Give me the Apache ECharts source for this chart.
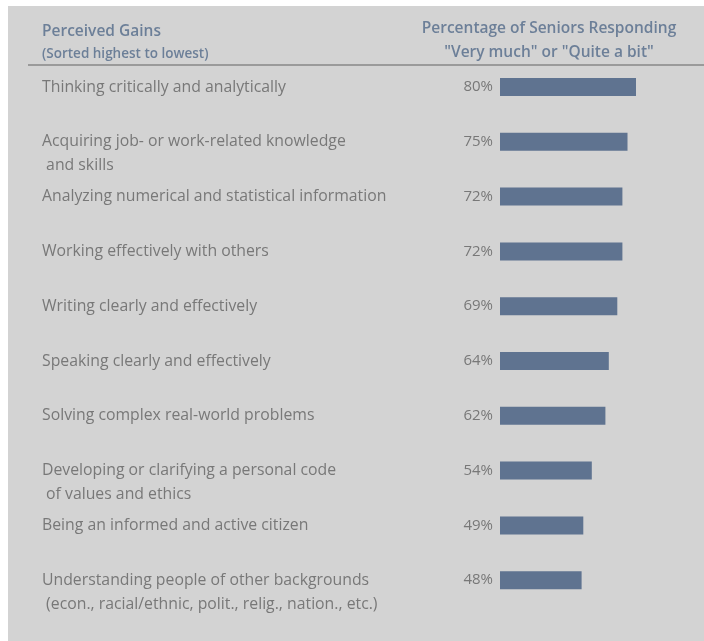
<!DOCTYPE html>
<html><head><meta charset="utf-8">
<script src="https://cdn.jsdelivr.net/npm/echarts@6/dist/echarts.min.js"></script>
<style>html,body{margin:0;padding:0;background:#fff}#c{width:704px;height:641px}</style>
</head><body><div id="c"></div>
<script>
const categories = [
  'Thinking critically and analytically',
  'Acquiring job- or work-related knowledge\n and skills',
  'Analyzing numerical and statistical information',
  'Working effectively with others',
  'Writing clearly and effectively',
  'Speaking clearly and effectively',
  'Solving complex real-world problems',
  'Developing or clarifying a personal code\n of values and ethics',
  'Being an informed and active citizen',
  'Understanding people of other backgrounds\n (econ., racial/ethnic, polit., relig., nation., etc.)'
];
const values = [80, 75, 72, 72, 69, 64, 62, 54, 49, 48];
const headerLeft = ['Perceived Gains', '(Sorted highest to lowest)'];
const headerRight = ['Percentage of Seniors Responding', '"Very much" or "Quite a bit"'];

const FONT = '"Open Sans", sans-serif';
const chart = echarts.init(document.getElementById('c'));
chart.setOption({
  backgroundColor: '#ffffff',
  animation: false,
  graphic: [
    { type: 'rect', shape: { x: 8, y: 6, width: 700, height: 640 }, style: { fill: '#d3d3d3' }, z: -10 },
    { type: 'line', shape: { x1: 28, y1: 65, x2: 704, y2: 65 }, style: { stroke: '#9a9a9a', lineWidth: 2 } }
  ],
  title: [
    { text: headerLeft[0], left: 37, top: 19, textStyle: { fontFamily: FONT, fontSize: 15.5, fontWeight: 600, color: '#6c7f98' } },
    { text: headerLeft[1], left: 37, top: 42, textStyle: { fontFamily: FONT, fontSize: 13.5, fontWeight: 600, color: '#6c7f98' } },
    { text: headerRight[0], left: 544, textAlign: 'center', top: 16, textStyle: { fontFamily: FONT, fontSize: 15.5, fontWeight: 600, color: '#6c7f98' } },
    { text: headerRight[1], left: 544, textAlign: 'center', top: 40, textStyle: { fontFamily: FONT, fontSize: 15.5, fontWeight: 600, color: '#6c7f98' } }
  ],
  grid: { left: 500, width: 170, top: 59.6, height: 548 },
  xAxis: { type: 'value', min: 0, max: 100, show: false },
  yAxis: {
    type: 'category', data: categories, inverse: true,
    axisLine: { show: false }, axisTick: { show: false }, splitLine: { show: false },
    axisLabel: {
      align: 'left', margin: 458, fontFamily: FONT, fontSize: 15.8, color: '#787878', lineHeight: 24,
      formatter: v => v.indexOf('\n') >= 0 ? ' \n' + v : v
    }
  },
  series: [{
    type: 'bar', data: values, barWidth: 18,
    itemStyle: { color: '#5f7390' },
    label: { show: true, position: 'left', distance: 7, formatter: '{c}%', fontFamily: FONT, fontSize: 15, color: '#787878' }
  }]
});
</script></body></html>
